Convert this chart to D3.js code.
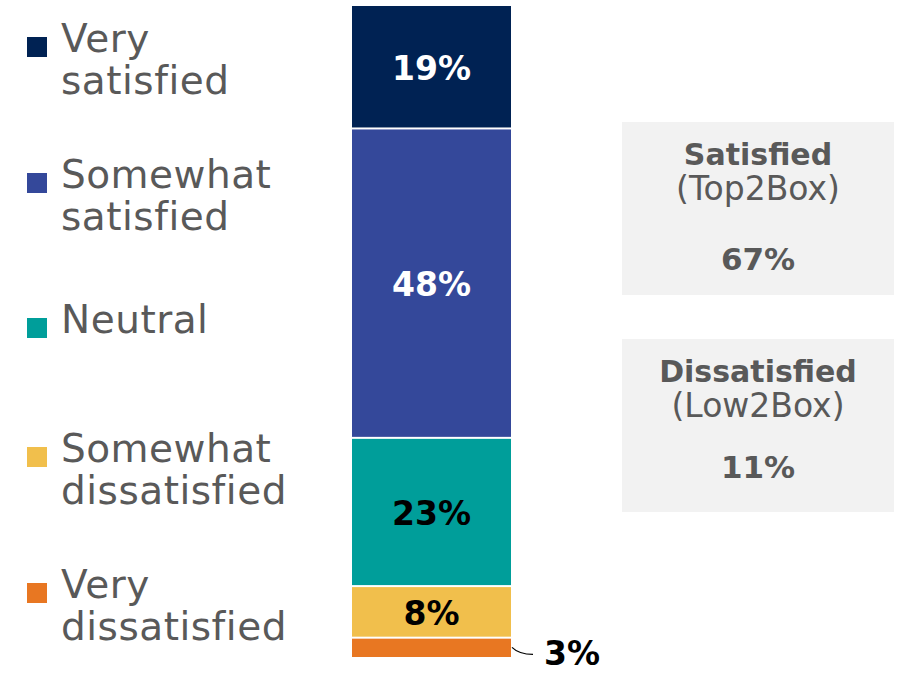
<!DOCTYPE html>
<html><head><meta charset="utf-8">
<script src="https://cdn.jsdelivr.net/npm/d3@7"></script>
<style>
html,body{margin:0;padding:0;background:#fff;}
svg{display:block;}
.lg{font-family:"Century Gothic","DejaVu Sans",sans-serif;fill:#595959;font-size:39px;letter-spacing:0.5px;}
.bx{font-family:"Century Gothic","DejaVu Sans",sans-serif;fill:#595959;}
.lbl{font-family:"Century Gothic","DejaVu Sans",sans-serif;font-weight:bold;font-size:33px;}
</style></head>
<body><svg id="c" width="902" height="674"></svg>
<script>
const categories = ["Very satisfied","Somewhat satisfied","Neutral","Somewhat dissatisfied","Very dissatisfied"];
const values = [19,48,23,8,3];
const colors = ["#002253","#34489a","#009e9a","#f1bf4c","#e87722"];
const labelColors = ["#ffffff","#ffffff","#000000","#000000","#000000"];
const summaryTitles = ["Satisfied","Dissatisfied"];
const summarySubs = ["(Top2Box)","(Low2Box)"];
const summaryValues = [67,11];

const svg = d3.select("#c");
const total = d3.sum(values);
const row = {}; categories.forEach((c,i)=>row[c]=values[i]);
const stacked = d3.stack().keys(categories)([row]);

const y = d3.scaleLinear().domain([0,total]).range([6,657]);
const x = d3.scaleBand().domain(["all"]).range([352,511]).padding(0);

const segs = svg.append("g");
stacked.forEach((s,i)=>{
  const d = s[0];
  const top = y(d[0]) + (i>0?1:0);
  const bot = y(d[1]) - (i<categories.length-1?1:0);
  segs.append("rect").attr("x",x("all")).attr("width",x.bandwidth())
    .attr("y",top).attr("height",bot-top).attr("fill",colors[i]);
  if(i<categories.length-1){
    segs.append("text").attr("class","lbl").attr("x",x("all")+x.bandwidth()/2)
      .attr("y",(y(d[0])+y(d[1]))/2).attr("dy","0.4em").attr("text-anchor","middle")
      .attr("fill",labelColors[i]).text(values[i]+"%");
  } else {
    const cy=(y(d[0])+y(d[1]))/2;
    const x0=x("all")+x.bandwidth();
    segs.append("path").attr("d",`M${x0+1},${cy} Q${x0+8},${cy+7} ${x0+22},${cy+7}`)
      .attr("fill","none").attr("stroke","#000").attr("stroke-width",1.2);
    segs.append("text").attr("class","lbl").attr("x",x0+33).attr("y",cy+18)
      .attr("fill",labelColors[i]).text(values[i]+"%");
  }
});

// legend
const legendY = [52,188,333,462,598];
const legendLines = [["Very","satisfied"],["Somewhat","satisfied"],["Neutral"],["Somewhat","dissatisfied"],["Very","dissatisfied"]];
const lg = svg.append("g");
categories.forEach((c,i)=>{
  lg.append("rect").attr("x",27).attr("y",legendY[i]-15).attr("width",20).attr("height",20).attr("fill",colors[i]);
  const t = lg.append("text").attr("class","lg").attr("x",61).attr("y",legendY[i]);
  legendLines[i].forEach((ln,j)=>{
    t.append("tspan").attr("x",61).attr("dy",j===0?0:41.5).text(ln);
  });
});

// summary boxes
const boxTop = [122,339];
const valOff = [148,139];
summaryTitles.forEach((t,i)=>{
  const g = svg.append("g");
  g.append("rect").attr("x",622).attr("y",boxTop[i]).attr("width",272).attr("height",173).attr("fill","#f2f2f2");
  g.append("text").attr("class","bx").attr("x",758).attr("y",boxTop[i]+43).attr("text-anchor","middle")
    .attr("font-size",30).attr("font-weight","bold").text(t);
  g.append("text").attr("class","bx").attr("x",758).attr("y",boxTop[i]+78).attr("text-anchor","middle")
    .attr("font-size",33).text(summarySubs[i]);
  g.append("text").attr("class","bx").attr("x",758).attr("y",boxTop[i]+valOff[i]).attr("text-anchor","middle")
    .attr("font-size",31).attr("font-weight","bold").text(summaryValues[i]+"%");
});
</script></body></html>
